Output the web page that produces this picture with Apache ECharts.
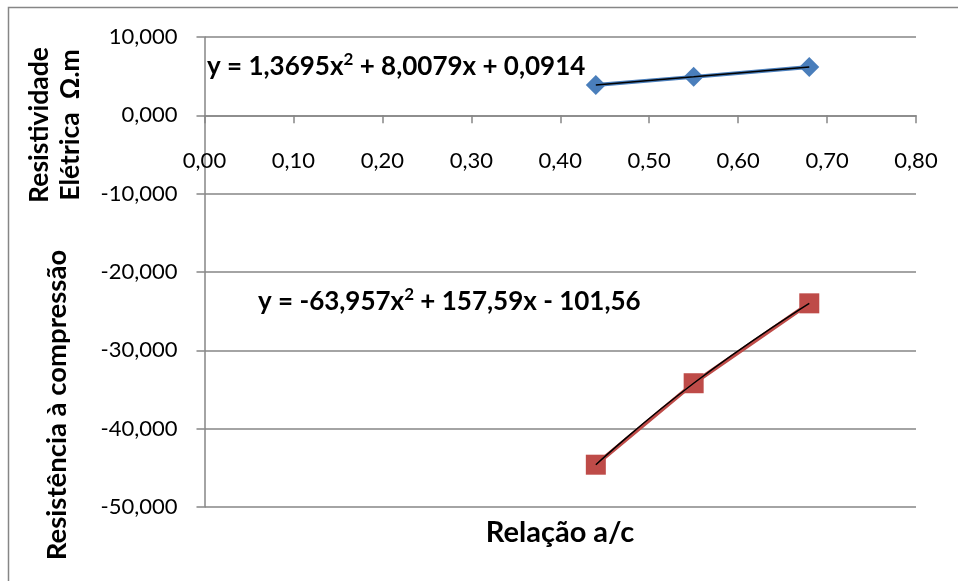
<!DOCTYPE html>
<html>
<head>
<meta charset="utf-8">
<script src="https://cdn.jsdelivr.net/npm/echarts@6/dist/echarts.min.js"></script>
<style>html,body{margin:0;padding:0;background:#fff}#c{width:958px;height:581px}</style>
</head>
<body>
<div id="c"></div>
<script>
// Data
const relacaoAC = [0.44, 0.55, 0.68];
const resistividade = [3.88, 4.91, 6.17];
const compressao = [-44.6, -34.2, -24.0];
const xTickLabels = ['0,00','0,10','0,20','0,30','0,40','0,50','0,60','0,70','0,80'];
const yTickLabels = ['-50,000','-40,000','-30,000','-20,000','-10,000','0,000','10,000'];
const eqResist = ['y = 1,3695x', '2', ' + 8,0079x + 0,0914'];
const eqComp = ['y = -63,957x', '2', ' + 157,59x - 101,56'];
const xTitle = 'Relação a/c';
const yTitleTop = ['Resistividade', 'Elétrica  Ω.m'];
const yTitleBottom = 'Resistência à compressão';

const FONT = 'Lato';
const chart = echarts.init(document.getElementById('c'), null, {renderer: 'canvas'});
const pairs = (xs, ys) => xs.map((x, i) => [x, ys[i]]);
const richEq = {
  a: {fontFamily: FONT, fontWeight: 'bold', fontSize: 26, color: '#000'},
  s: {fontFamily: FONT, fontWeight: 'bold', fontSize: 17, color: '#000', padding: [0, 0, 14, 0]}
};
const gray = '#868686';
// plot area
const gTop = 37, gBottom = 74; // grid bottom edge at y=507
const yMin = -50, yMax = 10;
const plotH = 581 - gTop - gBottom;
const zeroOffset = -plotH * (0 - yMin) / (yMax - yMin); // move x axis up to y = 0
chart.setOption({
  animation: false,
  backgroundColor: '#fff',
  grid: {left: 204.5, right: 42, top: gTop, bottom: gBottom, containLabel: false},
  xAxis: {
    type: 'value', min: 0, max: 0.8, interval: 0.1,
    position: 'bottom', offset: zeroOffset,
    axisLine: {onZero: false, lineStyle: {color: gray, width: 1.5}},
    axisTick: {show: true, length: 8, lineStyle: {color: gray, width: 1.5}},
    splitLine: {show: false},
    axisLabel: {
      margin: 35, fontFamily: FONT, fontSize: 22, color: '#000',
      formatter: (v) => xTickLabels[Math.round(v * 10)]
    }
  },
  yAxis: {
    type: 'value', min: yMin, max: yMax, interval: 10,
    axisLine: {show: true, onZero: false, lineStyle: {color: gray, width: 1.5}},
    axisTick: {show: true, length: 8, lineStyle: {color: gray, width: 1.5}},
    splitLine: {show: true, lineStyle: {color: gray, width: 1.5}},
    axisLabel: {
      margin: 27, fontFamily: FONT, fontSize: 22, color: '#000',
      formatter: (v) => yTickLabels[Math.round((v + 50) / 10)]
    }
  },
  series: [
    {
      type: 'line', data: pairs(relacaoAC, resistividade),
      symbol: 'diamond', symbolSize: 20,
      lineStyle: {color: '#4A7EBB', width: 4},
      itemStyle: {color: '#4A7EBB'}, z: 2
    },
    {
      type: 'line', data: pairs(relacaoAC, compressao),
      symbol: 'rect', symbolSize: 20,
      lineStyle: {color: '#BE4B48', width: 4},
      itemStyle: {color: '#BE4B48'}, z: 2
    },
    {
      type: 'line', data: pairs(relacaoAC, resistividade), smooth: true,
      showSymbol: false, symbol: 'none',
      lineStyle: {color: '#000', width: 1.5}, z: 3
    },
    {
      type: 'line', data: pairs(relacaoAC, compressao), smooth: true,
      showSymbol: false, symbol: 'none',
      lineStyle: {color: '#000', width: 1.5}, z: 3
    }
  ],
  graphic: [
    {type: 'rect', shape: {x: 8.5, y: 7.5, width: 1000, height: 1000}, style: {fill: 'none', stroke: gray, lineWidth: 1.5}, silent: true},
    {type: 'text', left: 207, top: 51, z: 10, style: {
      text: '{a|' + eqResist[0] + '}{s|' + eqResist[1] + '}{a|' + eqResist[2] + '}', rich: richEq}},
    {type: 'text', left: 258, top: 286, z: 10, style: {
      text: '{a|' + eqComp[0] + '}{s|' + eqComp[1] + '}{a|' + eqComp[2] + '}', rich: richEq}},
    {type: 'text', x: 560, y: 533, z: 10, style: {
      text: xTitle, fontFamily: FONT, fontWeight: 'bold', fontSize: 29, fill: '#000', align: 'center', verticalAlign: 'middle'}},
    {type: 'text', x: 39, y: 125, rotation: Math.PI / 2, z: 10, style: {
      text: yTitleTop[0], fontFamily: FONT, fontWeight: 'bold', fontSize: 26.5, fill: '#000', align: 'center', verticalAlign: 'middle'}},
    {type: 'text', x: 70, y: 125, rotation: Math.PI / 2, z: 10, style: {
      text: yTitleTop[1], fontFamily: FONT, fontWeight: 'bold', fontSize: 26.5, fill: '#000', align: 'center', verticalAlign: 'middle'}},
    {type: 'text', x: 57, y: 405, rotation: Math.PI / 2, z: 10, style: {
      text: yTitleBottom, fontFamily: FONT, fontWeight: 'bold', fontSize: 27.5, fill: '#000', align: 'center', verticalAlign: 'middle'}}
  ]
});
</script>
</body>
</html>
